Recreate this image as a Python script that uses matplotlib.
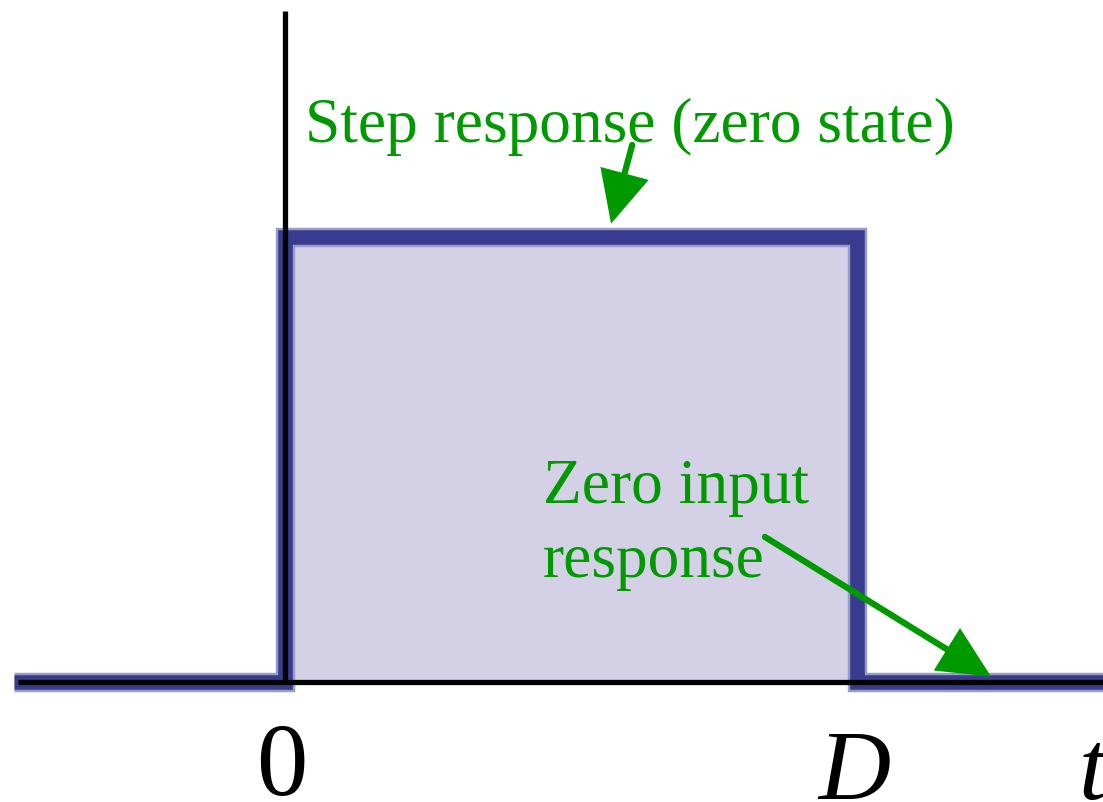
import matplotlib
matplotlib.use("Agg")
import matplotlib.pyplot as plt

# Data (t in units of D, amplitude normalised)
pulse_t = [-0.474, 0.0, 0.0, 1.0, 1.0, 1.45]
pulse_y = [0.0, 0.0, 1.0, 1.0, 0.0, 0.0]
fill_t = [0.0, 1.0]
fill_y = [1.0, 1.0]
axis_h_t = [-0.467, 1.45]
axis_v_y = [0.0, 1.508]
tick_pos = [-0.005, 0.995, 1.415]
tick_base = [-0.2535, -0.262, -0.262]
tick_labels = ["0", "$D$", "$t$"]
label_step = "Step response (zero state)"
label_zero = ["Zero input", "response"]

BLUE = "#383c8f"
FILL = "#d4d1e6"
GREEN = "#009900"

fig = plt.figure(figsize=(11.03, 8.02), dpi=100)
ax = fig.add_axes([0, 0, 1, 1])
ax.set_xlim(-0.4983, 1.4301)
ax.set_ylim(-0.2697, 1.5326)
ax.axis("off")

plt.rcParams["mathtext.fontset"] = "custom"
plt.rcParams["mathtext.it"] = "Liberation Serif:italic"
plt.rcParams["mathtext.rm"] = "Liberation Serif"

ax.fill_between(fill_t, 0, fill_y, color=FILL, zorder=1, lw=0)
ax.plot(pulse_t, pulse_y, color="#9a9cc8", lw=14, solid_joinstyle="miter",
        solid_capstyle="butt", zorder=2)
ax.plot(pulse_t, pulse_y, color=BLUE, lw=10.5, solid_joinstyle="miter",
        solid_capstyle="butt", zorder=3)

# axes
ax.plot(axis_h_t, [0, 0], color="black", lw=3.8, zorder=4, solid_capstyle="butt")
ax.plot([0, 0], axis_v_y, color="black", lw=3.8, zorder=4, solid_capstyle="butt")

# tick labels
sizes = [74, 72, 72]
for x, yb, s, fs in zip(tick_pos, tick_base, tick_labels, sizes):
    ax.text(x, yb, s, fontsize=fs, family="Liberation Serif",
            ha="center", va="baseline", color="black", zorder=5)

ax.text(0.035, 1.213, label_step, fontsize=45.6, family="Liberation Serif",
        color=GREEN, ha="left", va="baseline", zorder=5)
ax.text(0.451, 0.402, label_zero[0], fontsize=45.6, family="Liberation Serif",
        color=GREEN, ha="left", va="baseline", zorder=5)
ax.text(0.451, 0.236, label_zero[1], fontsize=45.6, family="Liberation Serif",
        color=GREEN, ha="left", va="baseline", zorder=5)

arrow = dict(arrowstyle="-|>,head_length=0.5,head_width=0.24", color=GREEN,
             lw=4.5, mutation_scale=60, shrinkA=0, shrinkB=0,
             joinstyle="miter")
ax.annotate("", xy=(0.570, 1.030), xytext=(0.607, 1.207), arrowprops=arrow, zorder=6)
ax.annotate("", xy=(1.2345, 0.012), xytext=(0.839, 0.326), arrowprops=arrow, zorder=6)

fig.savefig("out.png", dpi=100)
